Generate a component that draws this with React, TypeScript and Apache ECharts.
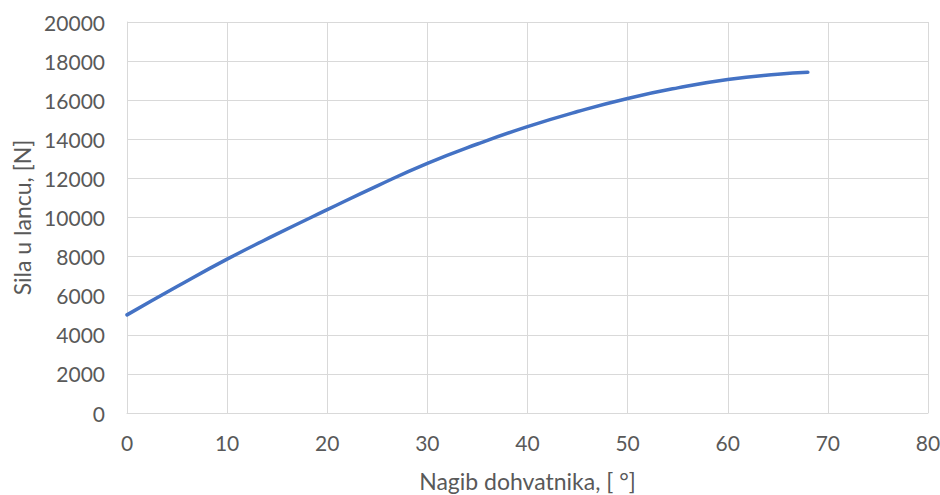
import React, { useEffect, useRef } from "react";
import * as echarts from "echarts";

const angles = [0, 5, 10, 15, 20, 25, 30, 35, 40, 45, 50, 55, 60, 65, 68];
const forces = [5020, 6470, 7870, 9160, 10400, 11620, 12770, 13760, 14650, 15420, 16090, 16630, 17060, 17330, 17430];
const xTitle = "Nagib dohvatnika, [ °]";
const yTitle = "Sila u lancu, [N]";

const FONT = "Lato, 'Open Sans', sans-serif";

export default function App() {
  const ref = useRef<HTMLDivElement>(null);
  useEffect(() => {
    if (!ref.current) return;
    const chart = echarts.init(ref.current, null, { renderer: "svg" });
    chart.setOption({
      animation: false,
      backgroundColor: "#ffffff",
      grid: { left: 127, right: 12, top: 22, bottom: 82, containLabel: false, outerBoundsMode: "none" },
      xAxis: {
        type: "value",
        min: 0,
        max: 80,
        interval: 10,
        name: xTitle,
        nameLocation: "middle",
        nameGap: 56,
        nameTextStyle: { color: "#595959", fontSize: 23, fontFamily: FONT },
        axisLine: { show: true, lineStyle: { color: "#d9d9d9", width: 1 } },
        axisTick: { show: false },
        axisLabel: { color: "#595959", fontSize: 21, fontFamily: FONT, margin: 19, formatter: (v: number) => String(v) },
        splitLine: { show: true, lineStyle: { color: "#d9d9d9", width: 1 } },
      },
      yAxis: {
        type: "value",
        min: 0,
        max: 20000,
        interval: 2000,
        name: yTitle,
        nameLocation: "middle",
        nameGap: 93,
        nameTextStyle: { color: "#595959", fontSize: 23, fontFamily: FONT },
        axisLine: { show: true, lineStyle: { color: "#d9d9d9", width: 1 } },
        axisTick: { show: false },
        axisLabel: { color: "#595959", fontSize: 21, fontFamily: FONT, margin: 22, formatter: (v: number) => String(v) },
        splitLine: { show: true, lineStyle: { color: "#d9d9d9", width: 1 } },
      },
      series: [
        {
          type: "line",
          data: angles.map((a, i) => [a, forces[i]]),
          smooth: true,
          showSymbol: false,
          lineStyle: { color: "#4472C4", width: 3.5, cap: "round" },
        },
      ],
    });
    return () => chart.dispose();
  }, []);
  return <div ref={ref} style={{ width: 940, height: 495, position: "absolute", left: 0, top: 0 }} />;
}
